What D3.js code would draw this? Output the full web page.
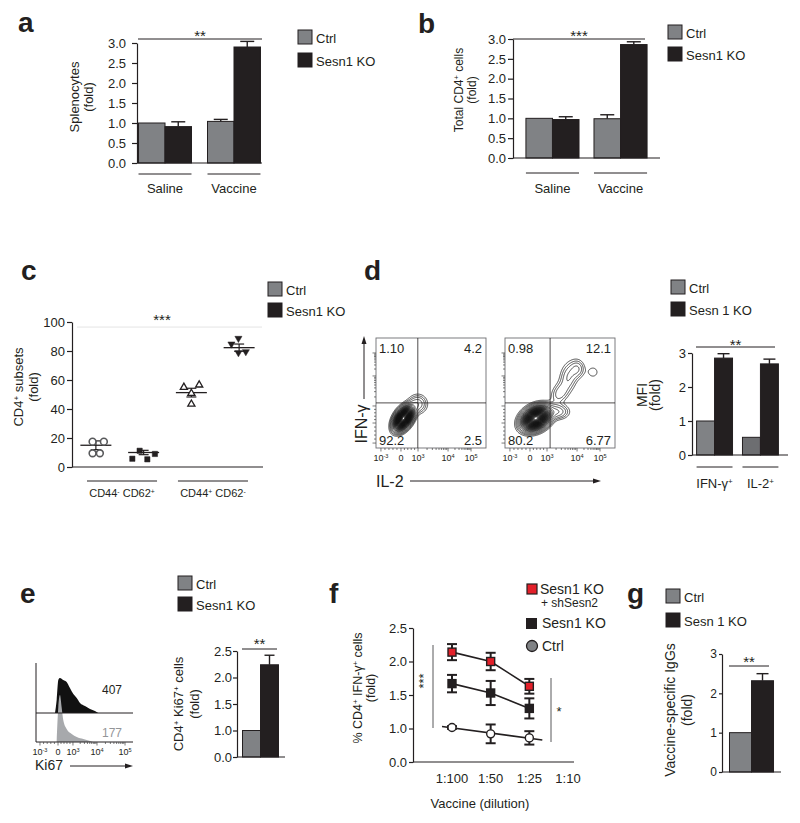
<!DOCTYPE html>
<html><head><meta charset="utf-8">
<script src="https://cdn.jsdelivr.net/npm/d3@7"></script>
<style>
body{margin:0;background:#fff}
svg{display:block}
text{font-family:"Liberation Sans",Arial,Helvetica,sans-serif}
</style>
</head><body>
<svg id="fig" width="800" height="823"></svg>
<script>
// ================= DATA =================
const legendLabels = ["Ctrl", "Sesn1 KO"];
const legendLabelsSp = ["Ctrl", "Sesn 1 KO"];

// panel a
const aGroups = ["Saline", "Vaccine"];
const aCtrl = [1.00, 1.04];
const aCtrlErr = [0, 0.05];
const aKO = [0.91, 2.90];
const aKOErr = [0.12, 0.14];
const aTicks = [0, 0.5, 1, 1.5, 2, 2.5, 3];

// panel b
const bGroups = ["Saline", "Vaccine"];
const bCtrl = [1.00, 0.99];
const bCtrlErr = [0, 0.10];
const bKO = [0.97, 2.86];
const bKOErr = [0.07, 0.07];
const bTicks = [0, 0.5, 1, 1.5, 2, 2.5, 3];

// panel c
const cColumns = ["naive-Ctrl", "naive-KO", "effector-Ctrl", "effector-KO"];
const cGroups = ["CD44^{-} CD62^{+}", "CD44^{+} CD62^{-}"];
const cNaiveCtrl = [17.5, 17.5, 9.5, 9.5];
const cNaiveKO = [5.7, 11.2, 5.3, 9.0];
const cEffCtrl = [55.0, 56.6, 50.8, 43.4];
const cEffKO = [88.7, 84.8, 78.8, 79.5];
const cMean = [15.0, 10.0, 51.3, 82.3];
const cSem = [3.0, 1.5, 3.0, 2.5];
const cTicks = [0, 20, 40, 60, 80, 100];

// panel d
const dGroups = ["IFN-γ^{+}", "IL-2^{+}"];
const dCtrl = [1.00, 0.52];
const dKO = [2.85, 2.68];
const dKOErr = [0.13, 0.14];
const dTicks = [0, 1, 2, 3];
const dQuadCtrl = ["1.10", "4.2", "92.2", "2.5"];
const dQuadKO = ["0.98", "12.1", "80.2", "6.77"];
const dGateCtrl = [38, 41];
const dGateKO = [41, 41];
// populations: [centre x, centre y, sd x, sd y, weight, correlation]
const dPopCtrl = [[25, 27, 4.5, 5.5, 1, 0.45], [38, 40, 5, 5, 0.06, 0]];
const dPopKO = [[28, 27, 6.5, 5.5, 1, 0.3], [48, 33, 6, 4, 0.06, 0], [50, 50, 5, 6, 0.04, 0.3],
                [58, 65, 5, 8, 0.045, 0.2], [66, 72, 4, 5, 0.04, 0], [80, 69, 4, 4, 0.018, 0]];
const flowTickPos = [4.5, 22.7, 38.2, 65.5, 86.4];
const flowTickLabels = ["10^{-3}", "0", "10^{3}", "10^{4}", "10^{5}"];

// panel e
const eHistPosKO = [19.6, 21.3, 23, 24.7, 28.1, 31.6, 35, 38.5, 42, 45.4, 50.5, 55.7, 60.8, 64.2];
const eHistKO = [0, 26, 66, 70, 66, 62, 50, 38, 30, 20, 14, 8, 4, 0];
const eHistPosCtrl = [21.3, 23, 24.7, 26.4, 28.1, 31.6, 36.8, 42, 48.8, 55.7, 58.8];
const eHistCtrl = [0, 70, 94, 70, 44, 26, 16, 10, 6, 2, 0];
const eMFI = ["407", "177"];
const eTickPos = [4.1, 22.7, 38.1, 62.9, 91.8];
const eCtrl = [1.0];
const eKO = [2.24];
const eKOErr = [0.18];
const eTicks = [0.5, 1, 1.5, 2, 2.5];
const eTickLabels = ["0.0", "1.0", "1.5", "2.0", "2.5"];

// panel f
const fDilutions = ["1:100", "1:50", "1:25", "1:10"];
const fShSesn2 = [2.14, 2.00, 1.63];
const fShSesn2Err = [0.12, 0.13, 0.11];
const fKO = [1.67, 1.53, 1.30];
const fKOErr = [0.13, 0.18, 0.15];
const fCtrl = [1.015, 0.92, 0.86];
const fCtrlErr = [0.02, 0.14, 0.10];
const fTicks = [0.5, 1, 1.5, 2, 2.5];
const fTickLabels = ["0.0", "1.0", "1.5", "2.0", "2.5"];

// panel g
const gCtrl = [1.0];
const gKO = [2.32];
const gKOErr = [0.18];
const gTicks = [0, 1, 2, 3];

// ================= DRAWING =================
const svg = d3.select("#fig");
const INK = "#231f20", GRAY = "#808285", DARKGRAY = "#6d6e71", BLACK = "#231f20", RED = "#e3202a";
const FONT = "'Liberation Sans', Arial, Helvetica, sans-serif";

function rich(t, s) {
  s.split(/(\^\{[^}]*\})/).forEach(p => {
    if (!p) return;
    if (p.startsWith("^{")) t.append("tspan").attr("baseline-shift", "super").attr("font-size", "62%").text(p.slice(2, -1));
    else t.append("tspan").text(p);
  });
  return t;
}
function txt(x, y, s, o = {}) {
  const t = svg.append("text").attr("x", x).attr("y", y).attr("font-size", o.size || 13)
    .attr("text-anchor", o.anchor || "start").attr("fill", o.fill || INK);
  if (o.weight) t.attr("font-weight", o.weight);
  return rich(t, s);
}
function vtxt(cx, cy, s, size) {
  const t = svg.append("text").attr("transform", `translate(${cx},${cy}) rotate(-90)`)
    .attr("text-anchor", "middle").attr("dy", "0.35em").attr("font-size", size || 13).attr("fill", INK);
  return rich(t, s);
}
function ln(x1, y1, x2, y2, o = {}) {
  return svg.append("line").attr("x1", x1).attr("y1", y1).attr("x2", x2).attr("y2", y2)
    .attr("stroke", o.stroke || INK).attr("stroke-width", o.w || 1);
}
function letter(x, y, s) { txt(x, y, s, { size: 28, weight: "bold" }); }
function legend(x, y, gap, labels, fs) {
  labels.forEach((l, i) => {
    svg.append("rect").attr("x", x).attr("y", y + i * gap).attr("width", 14).attr("height", 14)
      .attr("fill", i ? BLACK : GRAY).attr("stroke", INK).attr("stroke-width", 1);
    txt(x + 18, y + i * gap + 12.5, l, { size: fs || 13 });
  });
}
function sig(x1, x2, y, stars, by, o = {}) {
  ln(x1, y, x2, y, { w: 1, stroke: o.stroke || INK });
  txt((x1 + x2) / 2, by, stars, { size: 15, anchor: "middle" });
}
function yAxis(x, scale, ticks, fmt, o = {}) {
  const g = svg.append("g").attr("transform", `translate(${x},0)`)
    .call(d3.axisLeft(scale).tickValues(ticks).tickFormat(fmt).tickSize(o.ts || 4).tickSizeOuter(0).tickPadding(o.tp || 2));
  g.attr("font-family", FONT).attr("font-size", o.fs || 13).attr("color", INK);
  g.select(".domain").attr("stroke-width", 1.2);
  g.selectAll(".tick line").attr("stroke-width", 1.2);
  return g;
}
function ylab(x1, x2, cy, l1, size) {
  vtxt(x1, cy, l1, size);
  vtxt(x2, cy, "(fold)", size);
}
function bars(o) {
  const y = d3.scaleLinear().domain(o.domain).range([o.yb, o.yt]);
  const x = d3.scaleBand().domain(o.groups).range([o.xl, o.xr]).paddingInner(o.pi || 0).paddingOuter(o.po || 0);
  const xs = d3.scaleBand().domain(d3.range(o.series.length)).range([0, x.bandwidth()]);
  yAxis(o.xl, y, o.ticks, o.fmt, o);
  o.series.forEach((s, si) => {
    o.groups.forEach((gn, gi) => {
      const v = s.vals[gi], e = s.errs ? s.errs[gi] : 0;
      const bx = x(gn) + xs(si), bw = xs.bandwidth(), cx = bx + bw / 2;
      if (e > 0) {
        ln(cx, y(v), cx, y(v + e), { w: 1.4 });
        ln(cx - o.cap, y(v + e), cx + o.cap, y(v + e), { w: 1.4 });
      }
      svg.append("rect").attr("x", bx).attr("y", y(v)).attr("width", bw).attr("height", y(o.domain[0]) - y(v))
        .attr("fill", Array.isArray(s.fill) ? s.fill[gi] : s.fill).attr("stroke", INK).attr("stroke-width", 1);
    });
  });
  ln(o.xl, o.yb, o.xa, o.yb, { w: 1.2 });
  if (o.groupLineY) {
    o.groups.forEach(gn => {
      ln(x(gn), o.groupLineY, x(gn) + x.bandwidth(), o.groupLineY, { w: 1 });
      txt(x(gn) + x.bandwidth() / 2, o.labelY, gn, { anchor: "middle", size: o.lfs || 13 });
    });
  }
  return { x, y };
}

// ---------- panel a ----------
letter(18, 32, "a");
bars({ domain: [0, 3], yb: 163, yt: 43, xl: 137, xr: 262, xa: 262, pi: 0.232, po: 0.022,
  groups: aGroups, series: [{ vals: aCtrl, errs: aCtrlErr, fill: GRAY }, { vals: aKO, errs: aKOErr, fill: BLACK }],
  ticks: aTicks, fmt: d3.format(".1f"), ts: 5, tp: 6, fs: 13, cap: 7, groupLineY: 174, labelY: 193 });
sig(138, 262, 39, "**", 41);
ylab(74, 88, 97, "Splenocytes", 13);
legend(298, 30, 23, legendLabels);

// ---------- panel b ----------
letter(418, 33, "b");
bars({ domain: [0, 3], yb: 158, yt: 39, xl: 513, xr: 660, xa: 660, pi: 0.22, po: 0.19,
  groups: bGroups, series: [{ vals: bCtrl, errs: bCtrlErr, fill: GRAY }, { vals: bKO, errs: bKOErr, fill: BLACK }],
  ticks: bTicks, fmt: d3.format(".1f"), ts: 5, tp: 2, fs: 13, cap: 7, groupLineY: 173, labelY: 193 });
sig(513, 645, 39, "***", 41);
ylab(459, 472, 90, "Total CD4^{+} cells", 12);
legend(668, 25, 22, legendLabels);

// ---------- panel c ----------
letter(21, 280, "c");
{
  const y = d3.scaleLinear().domain([0, 100]).range([467, 322]);
  const x = d3.scaleBand().domain(cColumns).range([72, 263]);
  const xg = d3.scaleBand().domain(cGroups).range([72, 263]).paddingInner(0.23).paddingOuter(0.165);
  yAxis(72, y, cTicks, d3.format("d"), { ts: 5, tp: 2, fs: 13 });
  ln(72, 467, 263, 467, { w: 1.2 });
  ln(77, y(96.5), 262, y(96.5), { w: 1, stroke: "#e4e4e4" });
  txt(162, 325, "***", { size: 15, anchor: "middle" });
  const dodge = [[-3.3, 8, -3.3, 4], [-11.3, -4, 3.7, 11.3], [-7.5, 7.8, 0, 0], [-0.7, -7.7, -0.7, 6.7]];
  const sets = [cNaiveCtrl, cNaiveKO, cEffCtrl, cEffKO];
  cColumns.forEach((c, i) => {
    const cx = x(c) + x.bandwidth() / 2;
    ln(cx - 15.5, y(cMean[i]), cx + 15.5, y(cMean[i]), { w: 1.3 });
    ln(cx, y(cMean[i] - cSem[i]), cx, y(cMean[i] + cSem[i]), { w: 1.2 });
    ln(cx - 5, y(cMean[i] - cSem[i]), cx + 5, y(cMean[i] - cSem[i]), { w: 1.2 });
    ln(cx - 5, y(cMean[i] + cSem[i]), cx + 5, y(cMean[i] + cSem[i]), { w: 1.2 });
  });
  const sym = [
    { type: d3.symbolCircle, size: 36, fill: "#fff", stroke: "#58595b", sw: 1.6, rot: 0 },
    { type: d3.symbolSquare, size: 28, fill: BLACK, stroke: BLACK, sw: 0.5, rot: 0 },
    { type: d3.symbolTriangle, size: 22, fill: "#fff", stroke: INK, sw: 1.3, rot: 0 },
    { type: d3.symbolTriangle, size: 22, fill: BLACK, stroke: BLACK, sw: 0.5, rot: 180 }
  ];
  sets.forEach((vals, i) => {
    const cx = x(cColumns[i]) + x.bandwidth() / 2;
    svg.append("g").selectAll("path").data(vals).join("path")
      .attr("d", d3.symbol().type(sym[i].type).size(sym[i].size))
      .attr("transform", (v, k) => `translate(${cx + dodge[i][k]},${y(v)}) rotate(${sym[i].rot})`)
      .attr("fill", sym[i].fill).attr("stroke", sym[i].stroke).attr("stroke-width", sym[i].sw);
  });
  cGroups.forEach(gn => {
    ln(xg(gn), 481, xg(gn) + xg.bandwidth(), 481, { w: 1 });
    txt(xg(gn) + xg.bandwidth() / 2, 497, gn, { anchor: "middle", size: 11 });
  });
  ylab(18.5, 33, 387, "CD4^{+} subsets", 13);
  legend(268, 282, 21, legendLabels);
}

// ---------- panel d ----------
letter(364, 280, "d");
const contourLevels = [0.012, 0.02, 0.03, 0.045, 0.065, 0.09].concat(d3.range(0.11, 0.99, 0.024));
function flowPlot(bx, by, size, pops, gate, quad) {
  const g = svg.append("g").attr("transform", `translate(${bx},${by})`);
  const sx = d3.scaleLinear().domain([0, 100]).range([0, size]);
  const sy = d3.scaleLinear().domain([0, 100]).range([size, 0]);
  const res = 2, n = size * res, vals = new Array(n * n);
  for (let j = 0; j < n; j++) for (let i = 0; i < n; i++) {
    const px = sx.invert((i + 0.5) / res), py = sy.invert((j + 0.5) / res);
    let s = 0;
    for (const [mx, my, sdx, sdy, w, rho] of pops) {
      const dx = (px - mx) / sdx, dy = (py - my) / sdy;
      s += w * Math.exp(-0.5 * (dx * dx - 2 * rho * dx * dy + dy * dy) / (1 - rho * rho));
    }
    vals[j * n + i] = s;
  }
  const cs = d3.contours().size([n, n]).thresholds(contourLevels)(vals);
  g.append("g").attr("transform", `scale(${1 / res})`).selectAll("path").data(cs).join("path").attr("d", d3.geoPath())
    .attr("fill", "none").attr("stroke", "#111").attr("stroke-width", 0.75 * res);
  g.append("rect").attr("width", size).attr("height", size).attr("fill", "none").attr("stroke", "#6d6e71").attr("stroke-width", 0.9);
  g.append("line").attr("x1", sx(gate[0])).attr("x2", sx(gate[0])).attr("y1", 0).attr("y2", size).attr("stroke", INK).attr("stroke-width", 0.8);
  g.append("line").attr("x1", 0).attr("x2", size).attr("y1", sy(gate[1])).attr("y2", sy(gate[1])).attr("stroke", INK).attr("stroke-width", 0.8);
  const minor = [];
  for (let k = 0; k < flowTickPos.length - 1; k++) {
    const a = flowTickPos[k], b = flowTickPos[k + 1];
    if (k >= 2) { for (let m = 2; m <= 9; m++) minor.push(a + (b - a) * Math.log10(m)); }
    else { for (let m = 1; m <= 4; m++) minor.push(a + (b - a) * m / 5); }
  }
  const allT = flowTickPos.concat(minor);
  g.append("g").selectAll("line").data(allT).join("line")
    .attr("x1", d => sx(d)).attr("x2", d => sx(d)).attr("y1", size).attr("y2", d => size + (flowTickPos.includes(d) ? 3.5 : 2))
    .attr("stroke", "#444").attr("stroke-width", 0.7);
  g.append("g").selectAll("line").data(allT).join("line")
    .attr("y1", d => sy(d)).attr("y2", d => sy(d)).attr("x1", 0).attr("x2", d => -(flowTickPos.includes(d) ? 3.5 : 2))
    .attr("stroke", "#444").attr("stroke-width", 0.7);
  txt(bx + 3, by + 15, quad[0], { size: 13 });
  txt(bx + size - 4, by + 15, quad[1], { size: 13, anchor: "end" });
  txt(bx + 3, by + size - 3, quad[2], { size: 13 });
  txt(bx + size - 4, by + size - 3, quad[3], { size: 13, anchor: "end" });
  flowTickPos.forEach((p, i) => txt(bx + sx(p), by + size + 13, flowTickLabels[i], { size: 9, anchor: "middle" }));
}
flowPlot(376, 338, 110, dPopCtrl, dGateCtrl, dQuadCtrl);
flowPlot(505, 338, 110, dPopKO, dGateKO, dQuadKO);
vtxt(361.5, 424, "IFN-γ", 16);
ln(364, 399, 364, 340, { w: 1 });
svg.append("path").attr("d", "M361.5,344 L364,336 L366.5,344 Z").attr("fill", INK);
txt(376, 487, "IL-2", { size: 16 });
ln(410, 481, 597, 481, { w: 1 });
svg.append("path").attr("d", "M593,478.5 L601,481 L593,483.5 Z").attr("fill", INK);

bars({ domain: [0, 3], yb: 455, yt: 353, xl: 692, xr: 783, xa: 788, pi: 0.217, po: 0.1,
  groups: dGroups, series: [{ vals: dCtrl, fill: [GRAY, DARKGRAY] }, { vals: dKO, errs: dKOErr, fill: BLACK }],
  ticks: dTicks, fmt: d3.format("d"), ts: 4, tp: 2, fs: 13, cap: 6, groupLineY: 467, labelY: 488 });
sig(696, 775, 347, "**", 350);
ylab(642, 655, 395, "MFI", 14);
legend(671, 280, 22, legendLabelsSp);

// ---------- panel e ----------
letter(20, 603, "e");
{
  const hx = d3.scaleLinear().domain([0, 100]).range([36, 133]);
  const yKO = d3.scaleLinear().domain([0, 100]).range([713, 663]);
  const yC = d3.scaleLinear().domain([0, 100]).range([742, 692]);
  svg.append("path").datum(eHistPosKO.map((p, i) => [p, eHistKO[i]]))
    .attr("d", d3.area().x(d => hx(d[0])).y0(713).y1(d => yKO(d[1])).curve(d3.curveMonotoneX)).attr("fill", "#111");
  svg.append("path").datum(eHistPosCtrl.map((p, i) => [p, eHistCtrl[i]]))
    .attr("d", d3.area().x(d => hx(d[0])).y0(742).y1(d => yC(d[1])).curve(d3.curveMonotoneX)).attr("fill", "#a7a9ac");
  ln(36, 663, 36, 742, { w: 1 });
  ln(36, 713, 133, 713, { w: 1 });
  ln(36, 742, 133, 742, { w: 1 });
  const minor = [];
  for (let k = 0; k < eTickPos.length - 1; k++) {
    const a = eTickPos[k], b = eTickPos[k + 1];
    if (k >= 2) { for (let m = 2; m <= 9; m++) minor.push(a + (b - a) * Math.log10(m)); }
    else { for (let m = 1; m <= 4; m++) minor.push(a + (b - a) * m / 5); }
  }
  eTickPos.concat(minor).forEach(p => ln(hx(p), 742, hx(p), 742 + (eTickPos.includes(p) ? 3.5 : 2), { w: 0.7, stroke: "#444" }));
  eTickPos.forEach((p, i) => txt(hx(p), 755, flowTickLabels[i], { size: 9, anchor: "middle" }));
  txt(102, 694, eMFI[0], { size: 12 });
  txt(102, 737, eMFI[1], { size: 12, fill: "#939598" });
  txt(35, 770, "Ki67", { size: 14 });
  ln(70, 766, 128, 766, { w: 1 });
  svg.append("path").attr("d", "M125,763.5 L133,766 L125,768.5 Z").attr("fill", INK);
}
bars({ domain: [0.5, 2.5], yb: 757, yt: 651, xl: 237, xr: 284, xa: 285, pi: 0, po: 0.153,
  groups: ["Ki67"], series: [{ vals: eCtrl, fill: GRAY }, { vals: eKO, errs: eKOErr, fill: BLACK }],
  ticks: eTicks, fmt: (d, i) => eTickLabels[i], ts: 4, tp: 1, fs: 13, cap: 5 });
sig(242, 277, 649, "**", 649);
ylab(178, 194, 704, "CD4^{+} Ki67^{+} cells", 13);
legend(178, 576, 21, legendLabels);

// ---------- panel f ----------
letter(329, 603, "f");
{
  const x = d3.scalePoint().domain(fDilutions).range([452, 568]);
  const y = d3.scaleLinear().domain([0.5, 2.5]).range([762, 628]);
  yAxis(413, y, fTicks, (d, i) => fTickLabels[i], { ts: 4, tp: 2, fs: 13 });
  ln(413, 762, 574, 762, { w: 1.2 });
  fDilutions.forEach(d => txt(x(d), 783, d, { anchor: "middle", size: 13 }));
  txt(480, 808, "Vaccine (dilution)", { anchor: "middle", size: 13 });
  vtxt(358, 688, "% CD4^{+} IFN-γ^{+} cells", 12.5);
  vtxt(371, 688, "(fold)", 12.5);
  const series = [
    { vals: fShSesn2, errs: fShSesn2Err, kind: "sq", fill: RED },
    { vals: fKO, errs: fKOErr, kind: "sq", fill: BLACK },
    { vals: fCtrl, errs: fCtrlErr, kind: "ci", fill: "#fff" }
  ];
  series.forEach(s => {
    const pts = s.vals.map((v, i) => [x(fDilutions[i]), y(v)]);
    if (s.kind === "ci") {
      const mx = d3.mean(pts, p => p[0]), my = d3.mean(pts, p => p[1]);
      const slope = d3.sum(pts, p => (p[0] - mx) * (p[1] - my)) / d3.sum(pts, p => (p[0] - mx) ** 2);
      const xa = pts[0][0] - 10, xb = pts[pts.length - 1][0] + 13;
      ln(xa, my + slope * (xa - mx), xb, my + slope * (xb - mx), { w: 1.6 });
    } else {
      svg.append("path").attr("d", d3.line()(pts)).attr("fill", "none").attr("stroke", INK).attr("stroke-width", 1.6);
    }
  });
  series.forEach(s => {
    s.vals.forEach((v, i) => {
      const cx = x(fDilutions[i]);
      ln(cx, y(v - s.errs[i]), cx, y(v + s.errs[i]), { w: 2 });
      ln(cx - 5, y(v - s.errs[i]), cx + 5, y(v - s.errs[i]), { w: 2 });
      ln(cx - 5, y(v + s.errs[i]), cx + 5, y(v + s.errs[i]), { w: 2 });
    });
  });
  series.forEach(s => {
    s.vals.forEach((v, i) => {
      const cx = x(fDilutions[i]);
      if (s.kind === "sq") svg.append("rect").attr("x", cx - 4).attr("y", y(v) - 4).attr("width", 8).attr("height", 8)
        .attr("fill", s.fill).attr("stroke", INK).attr("stroke-width", 1.4);
      else svg.append("circle").attr("cx", cx).attr("cy", y(v)).attr("r", 4).attr("fill", s.fill).attr("stroke", INK).attr("stroke-width", 1.4);
    });
  });
  ln(433, 645, 433, 728, { w: 1, stroke: "#58595b" });
  svg.append("text").attr("transform", "translate(428,681) rotate(-90)").attr("text-anchor", "middle")
    .attr("font-size", 13).attr("fill", INK).text("***");
  ln(551, 678, 551, 742, { w: 1, stroke: "#58595b" });
  txt(559, 716, "*", { size: 13, anchor: "middle" });
  svg.append("rect").attr("x", 527).attr("y", 584).attr("width", 10).attr("height", 10).attr("fill", RED).attr("stroke", INK).attr("stroke-width", 1.2);
  txt(540, 594, "Sesn1 KO", { size: 14 });
  txt(541, 607, "+ shSesn2", { size: 12 });
  svg.append("rect").attr("x", 526).attr("y", 618).attr("width", 11).attr("height", 11).attr("fill", BLACK);
  txt(542, 628, "Sesn1 KO", { size: 14 });
  svg.append("circle").attr("cx", 532).attr("cy", 646).attr("r", 5.5).attr("fill", GRAY).attr("stroke", INK).attr("stroke-width", 1.3);
  txt(542, 651, "Ctrl", { size: 14 });
}

// ---------- panel g ----------
letter(627, 603, "g");
bars({ domain: [0, 3], yb: 772, yt: 654, xl: 722, xr: 781, xa: 781, pi: 0, po: 0.17,
  groups: ["IgG"], series: [{ vals: gCtrl, fill: GRAY }, { vals: gKO, errs: gKOErr, fill: BLACK }],
  ticks: gTicks, fmt: d3.format("d"), ts: 3, tp: 2, fs: 12, cap: 6 });
sig(729, 769, 666, "**", 667);
ylab(670, 687, 710, "Vaccine-specific IgGs", 14);
legend(666, 589, 24, legendLabelsSp);
</script>
</body></html>
